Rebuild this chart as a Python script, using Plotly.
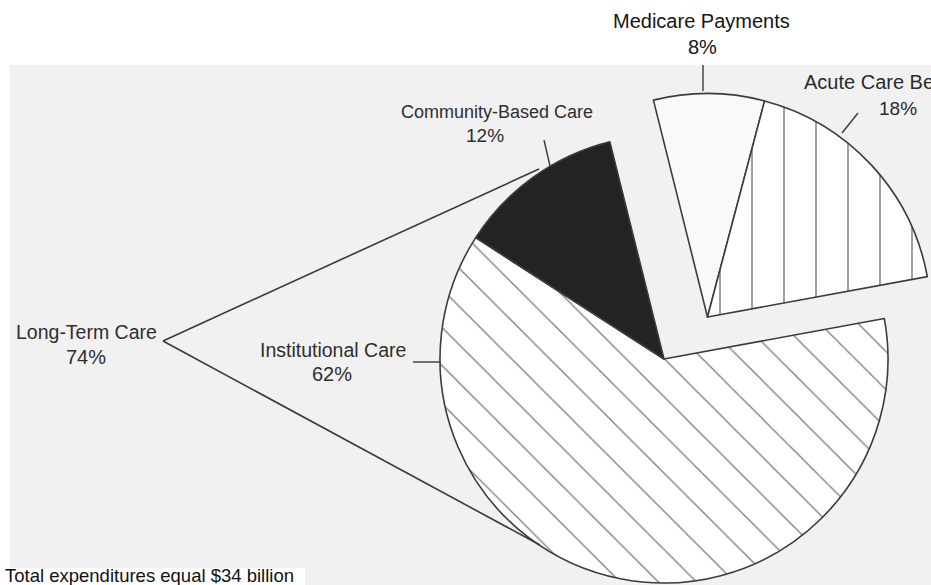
import plotly.graph_objects as go

W, H = 931, 585

# ---- data ----
main_labels = ["Institutional Care", "Community-Based Care"]
main_values = [62, 12]
exploded_labels = ["Medicare Payments", "Acute Care Benefits"]
exploded_values = [8, 18]
long_term_label = "Long-Term Care"
long_term_value = 74
total_note = "Total expenditures equal $34 billion"

FONT = "Liberation Sans, Arial, sans-serif"


def px(x):
    return x / W


def py(y):
    return 1 - y / H


gap_main = sum(exploded_values)
gap_expl = sum(main_values)

line_col = "#3c3c3c"

fig = go.Figure()

# main pie (long-term care part)
fig.add_trace(go.Pie(
    labels=["gap"] + main_labels,
    values=[gap_main] + main_values,
    sort=False, direction="clockwise", rotation=-14,
    domain=dict(x=[px(440), px(888)], y=[py(583), py(135)]),
    textinfo="none", hoverinfo="label+value", showlegend=False,
    marker=dict(
        colors=["rgba(0,0,0,0)", "#f7f7f7", "#232323"],
        line=dict(color=["rgba(0,0,0,0)", line_col, line_col], width=[0, 1.6, 1.6]),
        pattern=dict(shape=["", "\\", ""], size=27, solidity=0.045,
                     fgcolor="#777777", fillmode="replace"),
    ),
))

# exploded pie (Medicare part)
fig.add_trace(go.Pie(
    labels=exploded_labels + ["gap"],
    values=exploded_values + [gap_expl],
    sort=False, direction="clockwise", rotation=-14,
    domain=dict(x=[px(484), 1.0], y=[py(540.5), py(93.5)]),
    textinfo="none", hoverinfo="label+value", showlegend=False,
    marker=dict(
        colors=["#f9f9f9", "#f7f7f7", "rgba(0,0,0,0)"],
        line=dict(color=[line_col, line_col, "rgba(0,0,0,0)"], width=[1.6, 1.6, 0]),
        pattern=dict(shape=["", "|", ""], size=32, solidity=0.035,
                     fgcolor="#555555", fillmode="replace"),
    ),
))

shapes = [
    # scanned page background
    dict(type="rect", xref="paper", yref="paper", x0=px(10), x1=1, y0=0, y1=py(65),
         fillcolor="#f1f1f1", line=dict(width=0), layer="below"),
    dict(type="rect", xref="paper", yref="paper", x0=0, x1=px(305), y0=0, y1=py(568),
         fillcolor="#ffffff", line=dict(width=0), layer="below"),
]


def seg(x0, y0, x1, y1, w=1.4, c="#3a3a3a"):
    return dict(type="line", xref="paper", yref="paper",
                x0=px(x0), y0=py(y0), x1=px(x1), y1=py(y1),
                line=dict(color=c, width=w), layer="above")


shapes += [
    seg(703, 65, 703, 91),       # Medicare leader
    seg(858, 113, 842, 133),     # Acute leader
    seg(544, 140, 550, 166),     # Community leader
    seg(413, 362, 441, 362),     # Institutional leader
    seg(163, 341, 539, 169, 1.6),  # Long-term bracket (upper)
    seg(163, 341, 540, 545, 1.6),  # Long-term bracket (lower)
]


def ann(text, x, y, size, color="#2e2e2e", anchor="center"):
    return dict(text=text, x=px(x), y=py(y), xref="paper", yref="paper",
                xanchor=anchor, yanchor="middle", showarrow=False,
                font=dict(family=FONT, size=size, color=color))


annotations = [
    ann(exploded_labels[0], 701, 21, 20, "#151515"),
    ann(f"{exploded_values[0]}%", 702, 47, 20, "#151515"),
    ann(exploded_labels[1], 802, 82, 20, "#2a2a2a", "left"),
    ann(f"{exploded_values[1]}%", 898, 108, 19, "#2a2a2a"),
    ann(main_labels[1], 497, 112, 18),
    ann(f"{main_values[1]}%", 485, 135, 19),
    ann(long_term_label, 86, 332, 19.5),
    ann(f"{long_term_value}%", 86, 357, 20),
    ann(main_labels[0], 333, 350, 19.5),
    ann(f"{main_values[0]}%", 332, 374, 20),
    ann(total_note, 3, 575, 18.5, "#111111", "left"),
]

fig.update_layout(
    width=W, height=H,
    margin=dict(l=0, r=0, t=0, b=0),
    paper_bgcolor="#ffffff", plot_bgcolor="#ffffff",
    shapes=shapes, annotations=annotations,
    showlegend=False,
)

fig.write_html("out.html", config={"displayModeBar": False},
               post_script="document.body.style.margin='0px';")
